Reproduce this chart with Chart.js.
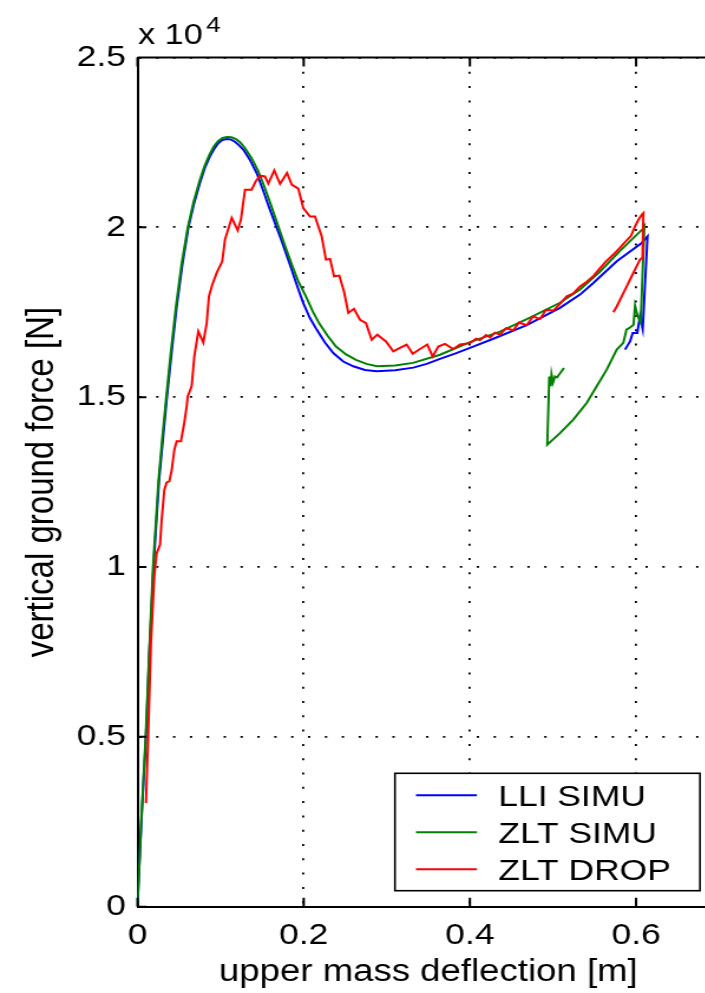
<!DOCTYPE html>
<html lang="en">
<head>
<meta charset="UTF-8">
<title>Vertical ground force vs upper mass deflection</title>
<script src="https://cdn.jsdelivr.net/npm/chart.js"></script>
<style>
    html, body { margin: 0; padding: 0; overflow: hidden; background: #fff; }
    /* the original figure is stretched sideways, so we stretch ours the same way */
    #wrap { width: 612px; height: 993px; transform: scaleX(1.18); transform-origin: 0 0; }
</style>
</head>
<body>
<div id="wrap"><canvas id="forceChart" width="612" height="993"></canvas></div>

<script>
    // tick labels
    const xTicks = [0, 0.2, 0.4, 0.6];
    const yTicks = [0, 0.5, 1, 1.5, 2, 2.5];

    // LLI SIMU : deflection [m], force [x 10^4 N]
    const lliDefl = [0, 0.0048, 0.0102, 0.0144, 0.0193, 0.0259, 0.03, 0.0351, 0.041, 0.0472,
        0.054, 0.0611, 0.068, 0.0752, 0.081, 0.0872, 0.092, 0.0969, 0.102, 0.1073,
        0.112, 0.1173, 0.122, 0.1273, 0.135, 0.1434, 0.151, 0.1594, 0.1654, 0.1715,
        0.1775, 0.1835, 0.1915, 0.1995, 0.2075, 0.2156, 0.2256, 0.2356, 0.2476, 0.2597,
        0.2737, 0.2878, 0.31, 0.3319, 0.348, 0.364, 0.382, 0.4001, 0.4282, 0.4684,
        0.5084, 0.5325, 0.5485, 0.5767, 0.6067, 0.6137, 0.6079, 0.6047, 0.6014, 0.5959,
        0.5927, 0.5866];
    const lliForce = [0, 0.255, 0.5, 0.753, 1.0, 1.254, 1.36, 1.492, 1.63, 1.767,
        1.89, 1.998, 2.07, 2.131, 2.175, 2.209, 2.23, 2.247, 2.257, 2.26,
        2.259, 2.252, 2.242, 2.229, 2.2, 2.16, 2.11, 2.052, 2.013, 1.973,
        1.932, 1.89, 1.832, 1.777, 1.733, 1.699, 1.661, 1.63, 1.605, 1.591,
        1.58, 1.576, 1.579, 1.587, 1.598, 1.613, 1.628, 1.645, 1.672, 1.712,
        1.763, 1.802, 1.836, 1.9, 1.954, 1.973, 1.701, 1.738, 1.689, 1.689,
        1.664, 1.64];

    // ZLT SIMU
    const zltSimDefl = [0, 0.0046, 0.0099, 0.0142, 0.0187, 0.0253, 0.0295, 0.0343, 0.04, 0.0463,
        0.053, 0.0604, 0.0675, 0.0746, 0.0806, 0.0866, 0.0918, 0.0969, 0.1023, 0.1077,
        0.1131, 0.1185, 0.1237, 0.1288, 0.137, 0.145, 0.153, 0.1613, 0.1694, 0.1775,
        0.1856, 0.1937, 0.2028, 0.211, 0.219, 0.229, 0.2389, 0.251, 0.2629, 0.2755,
        0.2882, 0.31, 0.3315, 0.364, 0.4001, 0.4362, 0.4723, 0.5084, 0.5325, 0.5566,
        0.5806, 0.6079, 0.6099, 0.6055, 0.6017, 0.5987, 0.5969, 0.5927, 0.5884, 0.5846,
        0.5767, 0.5646, 0.5526, 0.5405, 0.5244, 0.5084, 0.4931, 0.4955, 0.4972, 0.4982,
        0.5, 0.5024, 0.5048, 0.5132];
    const zltSimForce = [0, 0.255, 0.503, 0.753, 1.0, 1.254, 1.37, 1.492, 1.63, 1.767,
        1.89, 1.998, 2.075, 2.136, 2.18, 2.214, 2.238, 2.254, 2.263, 2.266,
        2.265, 2.26, 2.25, 2.235, 2.205, 2.167, 2.118, 2.061, 2.003, 1.946,
        1.891, 1.84, 1.796, 1.752, 1.716, 1.68, 1.649, 1.626, 1.61, 1.598,
        1.591, 1.593, 1.601, 1.625, 1.662, 1.693, 1.734, 1.778, 1.817, 1.87,
        1.931, 1.995, 2.003, 1.719, 1.74, 1.769, 1.713, 1.705, 1.699, 1.66,
        1.64, 1.581, 1.532, 1.483, 1.434, 1.394, 1.36, 1.561, 1.532, 1.567,
        1.543, 1.561, 1.558, 1.586];

    // ZLT DROP (measured)
    const dropDefl = [0.0102, 0.013, 0.0162, 0.0202, 0.0231, 0.0271, 0.0291, 0.0323, 0.0351, 0.0383,
        0.0412, 0.0443, 0.0472, 0.0523, 0.0563, 0.0592, 0.0604, 0.0652, 0.0684, 0.0732,
        0.0792, 0.0833, 0.086, 0.09, 0.0953, 0.102, 0.1053, 0.1134, 0.1206, 0.1245,
        0.1294, 0.1374, 0.1422, 0.1474, 0.1534, 0.1574, 0.1646, 0.1715, 0.1799, 0.1856,
        0.1935, 0.1995, 0.2076, 0.2136, 0.2217, 0.2268, 0.2317, 0.2365, 0.2428, 0.2485,
        0.2537, 0.2605, 0.2678, 0.275, 0.2818, 0.2886, 0.299, 0.3078, 0.3159, 0.3239,
        0.3312, 0.34, 0.3487, 0.3552, 0.362, 0.37, 0.38, 0.3881, 0.4001, 0.4073,
        0.4122, 0.4194, 0.4242, 0.4302, 0.4362, 0.4434, 0.4522, 0.459, 0.4684, 0.476,
        0.4844, 0.4916, 0.5004, 0.5084, 0.5165, 0.524, 0.5325, 0.5405, 0.548, 0.5566,
        0.5638, 0.5726, 0.5806, 0.5887, 0.5939, 0.5987, 0.6023, 0.6067, 0.6087, 0.6077,
        0.6047, 0.5995, 0.5947, 0.5887, 0.5827, 0.5767, 0.5726];
    const dropForce = [0.305, 0.511, 0.776, 0.972, 1.041, 1.065, 1.139, 1.227, 1.249, 1.252,
        1.286, 1.345, 1.37, 1.37, 1.424, 1.473, 1.502, 1.532, 1.62, 1.694,
        1.661, 1.718, 1.797, 1.831, 1.866, 1.9, 1.964, 2.028, 1.991, 2.023,
        2.111, 2.111, 2.135, 2.152, 2.15, 2.129, 2.168, 2.128, 2.16, 2.126,
        2.114, 2.057, 2.032, 2.032, 1.973, 1.905, 1.907, 1.856, 1.858, 1.811,
        1.748, 1.76, 1.728, 1.718, 1.669, 1.684, 1.664, 1.635, 1.645, 1.655,
        1.628, 1.642, 1.655, 1.62, 1.649, 1.657, 1.642, 1.655, 1.659, 1.672,
        1.668, 1.683, 1.676, 1.69, 1.684, 1.703, 1.697, 1.72, 1.712, 1.738,
        1.73, 1.757, 1.755, 1.775, 1.797, 1.805, 1.826, 1.84, 1.855, 1.88,
        1.9, 1.92, 1.94, 1.962, 1.975, 2.003, 2.02, 2.037, 2.042, 1.911,
        1.905, 1.88, 1.856, 1.826, 1.797, 1.767, 1.75];

    const FONT = '"Liberation Sans", Arial, Helvetica, sans-serif';
    Chart.defaults.font.family = FONT;
    Chart.defaults.color = '#000';

    function toPoints(xs, ys) {
        return xs.map((v, i) => ({ x: v, y: ys[i] }));
    }

    // box frame, inward ticks and the "x 10^4" multiplier
    const matlabAxes = {
        id: 'matlabAxes',
        afterDraw(chart) {
            const { ctx, chartArea: a, scales: { x, y } } = chart;
            ctx.save();
            ctx.strokeStyle = '#000';
            ctx.lineWidth = 2;
            ctx.beginPath();
            ctx.moveTo(a.left, a.top);
            ctx.lineTo(a.right, a.top);
            ctx.lineTo(a.right, a.bottom);
            xTicks.forEach(v => {
                const px = x.getPixelForValue(v);
                ctx.moveTo(px, a.bottom); ctx.lineTo(px, a.bottom - 9);
                ctx.moveTo(px, a.top); ctx.lineTo(px, a.top + 9);
            });
            yTicks.forEach(v => {
                const py = y.getPixelForValue(v);
                ctx.moveTo(a.left, py); ctx.lineTo(a.left + 7.6, py);
                ctx.moveTo(a.right, py); ctx.lineTo(a.right - 7.6, py);
            });
            ctx.stroke();

            ctx.fillStyle = '#000';
            ctx.textBaseline = 'alphabetic';
            ctx.font = '29px ' + FONT;
            const base = 'x 10';
            ctx.fillText(base, a.left + 0.5, 44);
            const w = ctx.measureText(base).width;
            ctx.font = '22px ' + FONT;
            ctx.fillText('4', a.left + 0.5 + w + 3, 32);
            ctx.restore();
        }
    };

    // legend box in the lower right corner of the plot
    const boxLegend = {
        id: 'boxLegend',
        afterDraw(chart) {
            const ctx = chart.ctx, a = chart.chartArea;
            const w = 258.5, h = 117.4;
            const x0 = a.right - 16.3 - w, y0 = a.bottom - 16 - h;
            ctx.save();
            ctx.fillStyle = '#fff';
            ctx.fillRect(x0, y0, w, h);
            ctx.strokeStyle = '#000';
            ctx.lineWidth = 1.6;
            ctx.strokeRect(x0, y0, w, h);
            ctx.font = '30px ' + FONT;
            ctx.textBaseline = 'alphabetic';
            chart.data.datasets.forEach((ds, i) => {
                const ly = y0 + 22 + i * 37;
                ctx.strokeStyle = ds.borderColor;
                ctx.lineWidth = 2;
                ctx.beginPath();
                ctx.moveTo(x0 + 17.8, ly);
                ctx.lineTo(x0 + 69.5, ly);
                ctx.stroke();
                ctx.fillStyle = '#000';
                ctx.fillText(ds.label, x0 + 87.6, ly + 10.8);
            });
            ctx.restore();
        }
    };

    const lineStyle = { borderWidth: 2, pointRadius: 0, tension: 0, fill: false };

    new Chart(document.getElementById('forceChart'), {
        type: 'line',
        data: {
            datasets: [
                { label: 'LLI SIMU', data: toPoints(lliDefl, lliForce), borderColor: '#0000ff', order: 3, ...lineStyle },
                { label: 'ZLT SIMU', data: toPoints(zltSimDefl, zltSimForce), borderColor: '#008000', order: 2, ...lineStyle },
                { label: 'ZLT DROP', data: toPoints(dropDefl, dropForce), borderColor: '#ff0000', order: 1, ...lineStyle }
            ]
        },
        options: {
            responsive: false,
            animation: false,
            events: [],
            layout: { padding: { top: 57.5, right: 2.5, bottom: 0, left: 0 } },
            plugins: { legend: { display: false }, tooltip: { enabled: false } },
            scales: {
                x: {
                    type: 'linear',
                    min: 0,
                    max: 0.7,
                    afterBuildTicks: s => { s.ticks = xTicks.map(v => ({ value: v })); },
                    afterFit: s => { s.height = 86.3; },
                    grid: { color: '#000', lineWidth: 1.8, drawTicks: false },
                    border: { display: true, color: '#000', width: 2, dash: [2, 12.3] },
                    ticks: { font: { size: 30 }, padding: 10.6, maxRotation: 0, callback: v => String(v) },
                    title: { display: true, text: 'upper mass deflection [m]', font: { size: 31 }, padding: { top: 0, bottom: 2 } }
                },
                y: {
                    type: 'linear',
                    min: 0,
                    max: 2.5,
                    afterBuildTicks: s => { s.ticks = yTicks.map(v => ({ value: v })); },
                    afterFit: s => { s.width = 116.5; },
                    grid: { color: '#000', lineWidth: 1.8, drawTicks: false },
                    border: { display: true, color: '#000', width: 2, dash: [2, 12.3] },
                    ticks: { font: { size: 30 }, padding: 9.7, callback: v => String(v) },
                    title: { display: true, text: 'vertical ground force [N]', font: { size: 33 }, padding: { top: 16, bottom: 0 } }
                }
            }
        },
        plugins: [matlabAxes, boxLegend]
    });
</script>
</body>
</html>
